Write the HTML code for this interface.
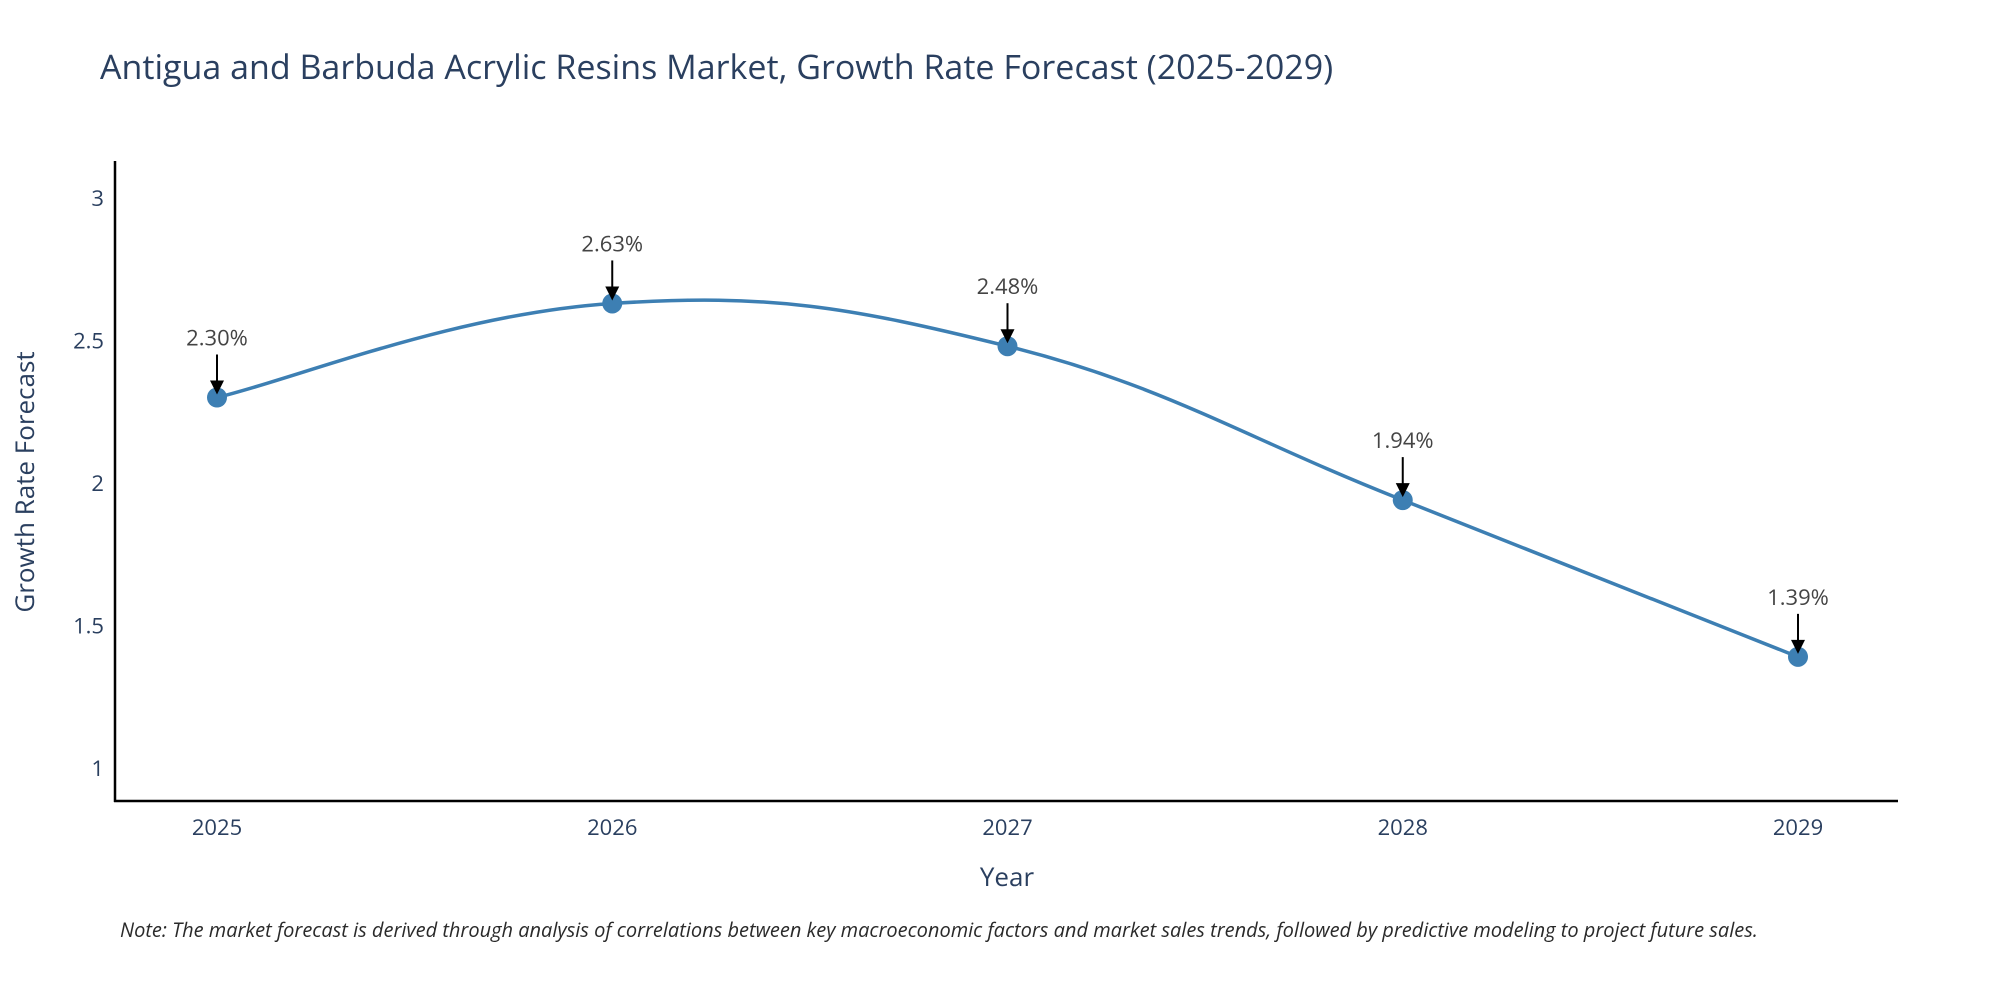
<!DOCTYPE html>
<html><head><meta charset="utf-8"><style>
body{margin:0;background:#fff;}
svg{display:block;font-family:"Open Sans","Liberation Sans",sans-serif;}
</style></head><body>
<svg id="chart" width="2000" height="1000" viewBox="0 0 2000 1000">
<text x="100" y="79" font-size="34" fill="#2a3f5f">Antigua and Barbuda Acrylic Resins Market, Growth Rate Forecast (2025-2029)</text>
<g id="yticks"></g>
<g id="xticks"></g>
<line x1="115" y1="161" x2="115" y2="802" stroke="#000" stroke-width="2.5"/>
<line x1="114" y1="801" x2="1898" y2="801" stroke="#000" stroke-width="2.5"/>
<path id="line" fill="none" stroke="#3d7fb3" stroke-width="3.5"/>
<g id="points"></g>
<g id="annots"></g>
<text x="1007" y="886" font-size="26" fill="#2a3f5f" text-anchor="middle">Year</text>
<text transform="translate(34,482) rotate(-90)" font-size="26" fill="#2a3f5f" text-anchor="middle">Growth Rate Forecast</text>
<text x="120" y="937" font-size="20" font-style="italic" fill="#2a2a2a">Note: The market forecast is derived through analysis of correlations between key macroeconomic factors and market sales trends, followed by predictive modeling to project future sales.</text>
</svg>
<script>
const years=[2025,2026,2027,2028,2029];
const values=[2.30,2.63,2.48,1.94,1.39];
const labels=["2.30%","2.63%","2.48%","1.94%","1.39%"];
const yTicks=[1,1.5,2,2.5,3];
const NS="http://www.w3.org/2000/svg";
const X=v=>217+(v-2025)*395.25;
const Y=v=>768-(v-1)*285;
function mk(t,a,p){const e=document.createElementNS(NS,t);for(const k in a)e.setAttribute(k,a[k]);p.appendChild(e);return e;}
const yt=document.getElementById('yticks');
yTicks.forEach(t=>{const e=mk('text',{x:104,y:Y(t)+8,'font-size':22,fill:'#2a3f5f','text-anchor':'end'},yt);


e.textContent=String(t);});
const xt=document.getElementById('xticks');
years.forEach(y=>{const e=mk('text',{x:X(y),y:835,'font-size':22,fill:'#2a3f5f','text-anchor':'middle'},xt);


e.textContent=String(y);});
const pts=years.map((y,i)=>[X(y),Y(values[i])]);
let d=`M${pts[0][0]},${pts[0][1]}`;const s=0.2;
for(let i=0;i<pts.length-1;i++){const p0=pts[i-1]||pts[i],p1=pts[i],p2=pts[i+1],p3=pts[i+2]||p2;
const c1=[p1[0]+(p2[0]-p0[0])*s,p1[1]+(p2[1]-p0[1])*s],c2=[p2[0]-(p3[0]-p1[0])*s,p2[1]-(p3[1]-p1[1])*s];
d+=` C${c1[0]},${c1[1]} ${c2[0]},${c2[1]} ${p2[0]},${p2[1]}`;}
document.getElementById('line').setAttribute('d',d);
const pg=document.getElementById('points'),ag=document.getElementById('annots');
pts.forEach((p,i)=>{const c=mk('circle',{cx:p[0],cy:p[1],r:10,fill:'#3d7fb3'},pg);


const l=mk('line',{x1:p[0],y1:p[1]-43,x2:p[0],y2:p[1]-16,stroke:'#000','stroke-width':2},ag);


const h=mk('polygon',{points:`${p[0]-7},${p[1]-17} ${p[0]+7},${p[1]-17} ${p[0]},${p[1]-3}`,fill:'#000'},ag);


const t=mk('text',{x:p[0],y:p[1]-52,'font-size':22,fill:'#444','text-anchor':'middle'},ag);


t.textContent=labels[i];});
</script>
</body></html>
